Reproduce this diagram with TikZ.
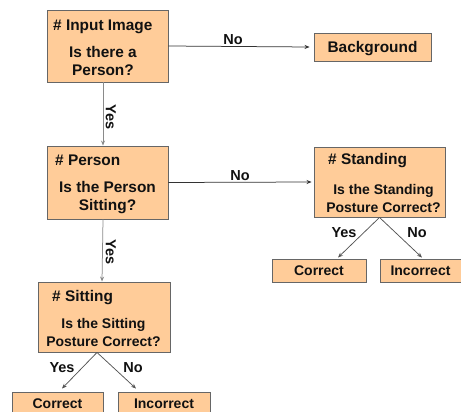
\documentclass[tikz,border=0pt]{standalone}
\usepackage{fontspec}
\setmainfont{Liberation Sans}
\usetikzlibrary{arrows.meta}
\definecolor{boxfill}{HTML}{FFCC99}
\definecolor{boxline}{HTML}{666666}
\definecolor{lineA}{HTML}{333333}
\definecolor{lineB}{HTML}{8A8A8A}
\definecolor{lineC}{HTML}{555555}
\definecolor{txt}{HTML}{111111}
\begin{document}
\begin{tikzpicture}[x=1pt,y=-1pt,
  box/.style={draw=boxline, fill=boxfill, line width=0.9pt, inner sep=0pt},
  leaf/.style={box, font=\bfseries\fontsize{14}{16}\selectfont, text=txt, text height=10pt, text depth=0pt},
  title/.style={font=\bfseries\fontsize{15.4}{18.5}\selectfont, text=txt, anchor=base west, inner sep=0pt},
  quest/.style={font=\bfseries\fontsize{15.4}{18.5}\selectfont, text=txt, align=center, inner sep=0pt},
  questsm/.style={font=\bfseries\fontsize{14}{18}\selectfont, text=txt, align=center, inner sep=0pt},
  lbl/.style={font=\bfseries\fontsize{14.5}{17}\selectfont, text=txt, inner sep=0pt, text height=10.4pt, text depth=0pt},
  arr/.style={-{Stealth[length=5pt,width=4pt]}, line width=0.75pt}]
\useasboundingbox (0,0) rectangle (461,412);
\clip (0,0) rectangle (461,412);

% main boxes
\node[box, minimum width=121pt, minimum height=72pt] (b1) at (107.5,46) {};
\node[title] (t1) at (53,30.5) {\# Input Image};
\node[quest] (q1) at (103,61) {Is there a\\Person?};

\node[box, minimum width=121pt, minimum height=73pt] (b2) at (107.5,182.5) {};
\node[title] (t2) at (55,165.5) {\# Person};
\node[quest] (q2) at (107.5,197.5) {Is the Person\\Sitting?};

\node[box, minimum width=131pt, minimum height=70pt] (b3) at (379.5,182) {};
\node[title] (t3) at (328,164.5) {\# Standing};
\node[questsm] (q3) at (383.5,198) {Is the Standing\\Posture Correct?};

\node[box, minimum width=132pt, minimum height=70pt] (b4) at (104,317) {};
\node[title] (t4) at (52,301.5) {\# Sitting};
\node[questsm] (q4) at (103.5,332) {Is the Sitting\\Posture Correct?};

% leaves
\node[leaf, font=\bfseries\fontsize{15.4}{18}\selectfont, text height=11pt, minimum width=117pt, minimum height=28pt] (bg) at (372.5,47) {Background};
\node[leaf, minimum width=94pt, minimum height=23pt] (sc) at (319,270.5) {Correct};
\node[leaf, minimum width=81pt, minimum height=23pt] (si) at (420.5,270.5) {Incorrect};
\node[leaf, minimum width=91pt, minimum height=23pt] (tc) at (57.5,403.5) {Correct};
\node[leaf, minimum width=92pt, minimum height=23pt] (ti) at (164,403.5) {Incorrect};

% connectors
\draw[arr, lineA] (b1.east) -- ([xshift=-4pt]bg.west);
\draw[arr, lineA] (b2.east) -- ([xshift=-2pt]b3.west);
\draw[arr, lineB] ([xshift=-4.5pt]b1.south) -- ([xshift=-4.5pt]b2.north);
\draw[arr, lineB] ([xshift=-4.5pt]b2.south) -- ([xshift=-2pt]b4.north);
\draw[arr, lineC] (b3.south) -- ([xshift=19pt,yshift=1pt]sc.north);
\draw[arr, lineC] (b3.south) -- ([xshift=1.5pt,yshift=1pt]si.north);
\draw[arr, lineC] ([xshift=-7pt]b4.south) -- ([xshift=4.5pt,yshift=3pt]tc.north);
\draw[arr, lineC] ([xshift=-7pt]b4.south) -- ([xshift=-28pt,yshift=3pt]ti.north);

% labels
\node[lbl] (n1) at (233,39) {No};
\node[lbl] (n2) at (240,175) {No};
\node[lbl, rotate=-90] (y1) at (111,117) {Yes};
\node[lbl, rotate=-90] (y2) at (111,252) {Yes};
\node[lbl] (y3) at (344,232) {Yes};
\node[lbl] (n3) at (417,232) {No};
\node[lbl] (y4) at (62,367) {Yes};
\node[lbl] (n4) at (133,367) {No};
\end{tikzpicture}
\end{document}
